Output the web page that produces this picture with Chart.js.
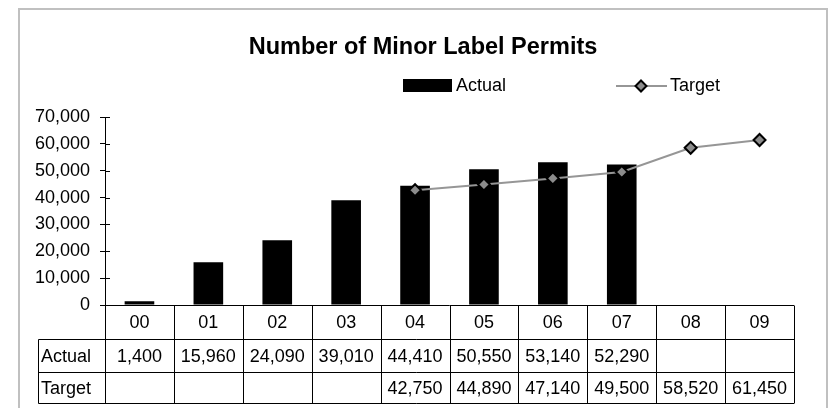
<!DOCTYPE html>
<html><head><meta charset="utf-8">
<script src="https://cdn.jsdelivr.net/npm/chart.js@4.4.0/dist/chart.umd.min.js"></script>
<style>html,body{margin:0;padding:0;background:#fff;}#wrap{width:829px;height:408px;position:relative;}</style>
</head><body><div id="wrap"><canvas id="c" width="829" height="408"></canvas></div>
<script>
const categories = ['00','01','02','03','04','05','06','07','08','09'];
const actualValues = [1400,15960,24090,39010,44410,50550,53140,52290,null,null];
const targetValues = [null,null,null,null,42750,44890,47140,49500,58520,61450];
const yTickValues = [0,10000,20000,30000,40000,50000,60000,70000];
const chartTitle = 'Number of Minor Label Permits';
const seriesNames = ['Actual','Target'];

const FONT = '"Liberation Sans", Arial, sans-serif';
const fmt = v => (v === null || v === undefined) ? '' : v.toLocaleString('en-US');

function line(ctx, x1, y1, x2, y2) { ctx.beginPath(); ctx.moveTo(x1, y1); ctx.lineTo(x2, y2); ctx.stroke(); }

const decor = {
  id: 'decor',
  beforeDraw(chart) {
    const ctx = chart.ctx;
    ctx.save();
    ctx.fillStyle = '#fff';
    ctx.fillRect(0, 0, chart.width, chart.height);
    ctx.strokeStyle = '#c0c0c0';
    ctx.lineWidth = 2;
    ctx.strokeRect(19, 9, 808, 430);
    ctx.restore();
  },
  afterDraw(chart) {
    const ctx = chart.ctx, xs = chart.scales.x, ys = chart.scales.y, ca = chart.chartArea;
    ctx.save();
    // title
    ctx.fillStyle = '#000';
    ctx.font = 'bold 23.5px ' + FONT;
    ctx.textAlign = 'center'; ctx.textBaseline = 'middle';
    ctx.fillText(chartTitle, 423, 48);
    // legend
    ctx.font = '18px ' + FONT;
    ctx.textAlign = 'left';
    ctx.fillRect(403, 79, 49, 13);
    ctx.fillText(seriesNames[0], 456, 86);
    ctx.strokeStyle = '#969696'; ctx.lineWidth = 2;
    line(ctx, 616, 86, 667, 86);
    ctx.beginPath();
    ctx.moveTo(641, 80.5); ctx.lineTo(646.5, 86); ctx.lineTo(641, 91.5); ctx.lineTo(635.5, 86); ctx.closePath();
    ctx.fillStyle = '#8c8c8c'; ctx.fill();
    ctx.strokeStyle = '#000'; ctx.stroke();
    ctx.fillStyle = '#000';
    ctx.fillText(seriesNames[1], 670, 86);
    // inner half of y ticks (cross style)
    ctx.strokeStyle = '#000'; ctx.lineWidth = 1;
    yTickValues.forEach(v => { const y = Math.round(ys.getPixelForValue(v)) + 0.5; line(ctx, ca.left, y, ca.left + 5, y); });
    // data table
    const step = xs.getPixelForValue(1) - xs.getPixelForValue(0);
    const top = Math.round(ca.bottom) + 0.5;
    const r1 = top + 34, r2 = r1 + 33, r3 = r2 + 31;
    const tableLeft = 38.5;
    line(ctx, ca.left, top, ca.right, top);
    [r1, r2, r3].forEach(y => line(ctx, tableLeft, y, ca.right, y));
    line(ctx, tableLeft, r1, tableLeft, r3);
    for (let i = 0; i <= categories.length; i++) {
      const xb = Math.round(xs.getPixelForValue(0) - step / 2 + i * step) + 0.5;
      line(ctx, xb, top, xb, r3);
    }
    ctx.font = '18px ' + FONT;
    ctx.textBaseline = 'middle';
    ctx.textAlign = 'left';
    ctx.fillText(seriesNames[0], 41, (r1 + r2) / 2 + 1);
    ctx.fillText(seriesNames[1], 41, (r2 + r3) / 2 + 1);
    ctx.textAlign = 'center';
    categories.forEach((c, i) => {
      const cx = xs.getPixelForValue(i);
      ctx.fillText(c, cx, (top + r1) / 2 + 1);
      ctx.fillText(fmt(actualValues[i]), cx, (r1 + r2) / 2 + 1);
      ctx.fillText(fmt(targetValues[i]), cx, (r2 + r3) / 2 + 1);
    });
    ctx.restore();
  }
};

new Chart(document.getElementById('c'), {
  type: 'bar',
  data: {
    labels: categories,
    datasets: [
      { type: 'line', label: seriesNames[1], data: targetValues, order: 1,
        borderColor: '#969696', borderWidth: 2, fill: false, tension: 0,
        pointStyle: 'rectRot', pointRadius: 6, pointHoverRadius: 6,
        pointBackgroundColor: '#8c8c8c', pointBorderColor: '#000', pointBorderWidth: 2 },
      { label: seriesNames[0], data: actualValues, order: 2,
        backgroundColor: '#000', borderWidth: 0, barPercentage: 0.43, categoryPercentage: 1 }
    ]
  },
  options: {
    responsive: false, animation: false, devicePixelRatio: 1,
    layout: { padding: { left: 0, top: 117, right: 35, bottom: 103 } },
    plugins: { legend: { display: false }, title: { display: false }, tooltip: { enabled: false } },
    scales: {
      x: { display: false, offset: true },
      y: {
        min: 0, max: 70000,
        afterFit: s => { s.width = 105; },
        afterBuildTicks: s => { s.ticks = yTickValues.map(v => ({ value: v })); },
        ticks: { color: '#000', font: { size: 18, family: FONT }, padding: 10, callback: v => fmt(v) },
        grid: { drawOnChartArea: false, drawTicks: true, tickLength: 5, color: '#000' },
        border: { display: true, color: '#000', width: 1 }
      }
    }
  },
  plugins: [decor]
});
</script></body></html>
